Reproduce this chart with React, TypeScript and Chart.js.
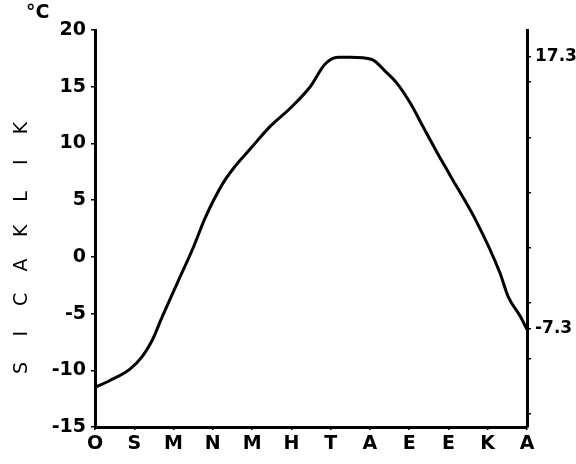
import React, { useEffect, useRef } from 'react';
import { Chart, registerables } from 'chart.js';

Chart.register(...registerables);

// Month initials (Turkish: Ocak ... Aralık)
const MONTH_LABELS = ['O', 'S', 'M', 'N', 'M', 'H', 'T', 'A', 'E', 'E', 'K', 'A'];

// Positions along the month axis (0 = O ... 11 = A) and temperatures (°C)
const MONTH_POS = [
  0, 0.38, 0.89, 1.22, 1.45, 1.71, 2.11, 2.5, 2.8, 3.26, 3.57, 3.95, 4.46, 4.97, 5.48, 5.86,
  6.19, 6.5, 7.05, 7.38, 7.69, 8.02, 8.35, 8.71, 9.04, 9.73, 10.31, 10.52, 10.82, 11,
];
const TEMPS = [
  -11.5, -10.9, -9.9, -8.7, -7.4, -5.3, -2.2, 0.8, 3.4, 6.5, 8.0, 9.5, 11.5, 13.1, 15.0, 17.0,
  17.6, 17.6, 17.4, 16.4, 15.3, 13.6, 11.5, 9.2, 7.2, 3.0, -1.4, -3.5, -5.2, -6.4,
];

// Left axis ticks
const Y_MIN = -15;
const Y_MAX = 20;
const Y_STEP = 5;

// Right axis (drawn slightly offset in the original) ticks and highlighted values
const RIGHT_MIN = -16.2;
const RIGHT_MAX = 19.7;
const RIGHT_TICKS = [-15, -10, -7.3, -5, 0, 5, 10, 15, 17.3];
const RIGHT_LABELS = [17.3, -7.3];

const Y_TITLE = 'SICAKLIK';
const UNIT = '°C';

const FONT_FAMILY = '"DejaVu Sans", "Liberation Sans", sans-serif';

export default function App() {
  const ref = useRef<HTMLCanvasElement | null>(null);

  useEffect(() => {
    if (!ref.current) return;

    const textPlugin = {
      id: 'extraText',
      afterDraw(chart: any) {
        const ctx = chart.ctx;
        ctx.save();
        ctx.fillStyle = '#000';
        ctx.font = `bold 19px ${FONT_FAMILY}`;
        ctx.textAlign = 'left';
        ctx.textBaseline = 'top';
        ctx.fillText(UNIT, 26, 4);
        ctx.font = `19px ${FONT_FAMILY}`;
        ctx.textAlign = 'center';
        ctx.textBaseline = 'middle';
        const letters = Y_TITLE.split('');
        const startY = 368;
        const step = 34.3;
        letters.forEach((ch, i) => {
          ctx.save();
          ctx.translate(22, startY - i * step);
          ctx.rotate(-Math.PI / 2);
          ctx.fillText(ch, 0, 0);
          ctx.restore();
        });
        ctx.restore();
      },
    };

    const chart = new Chart(ref.current, {
      type: 'line',
      data: {
        datasets: [
          {
            data: MONTH_POS.map((x, i) => ({ x, y: TEMPS[i] })),
            borderColor: '#000',
            borderWidth: 3,
            pointRadius: 0,
            fill: false,
            tension: 0.4,
            cubicInterpolationMode: 'monotone',
            yAxisID: 'y',
          },
        ],
      },
      options: {
        animation: false,
        responsive: false,
        layout: { padding: { top: 30, left: 0, right: 0, bottom: 0 } },
        plugins: {
          legend: { display: false },
          tooltip: { enabled: false },
          title: { display: false },
        },
        scales: {
          x: {
            type: 'linear',
            min: 0,
            max: MONTH_LABELS.length - 1,
            afterBuildTicks: (scale: any) => {
              scale.ticks = MONTH_LABELS.map((_, i) => ({ value: i }));
            },
            afterFit: (scale: any) => {
              scale.height = 37;
            },
            ticks: {
              autoSkip: false,
              maxRotation: 0,
              color: '#000',
              padding: 3,
              font: { family: FONT_FAMILY, size: 19, weight: 'bold' },
              callback: (v: any) => MONTH_LABELS[Math.round(Number(v))] ?? '',
            },
            grid: { display: true, drawOnChartArea: false, tickLength: 3, color: '#000', lineWidth: 1.5 },
            border: { display: true, color: '#000', width: 3 },
          },
          y: {
            type: 'linear',
            position: 'left',
            min: Y_MIN,
            max: Y_MAX,
            ticks: {
              stepSize: Y_STEP,
              color: '#000',
              padding: 5,
              font: { family: FONT_FAMILY, size: 19, weight: 'bold' },
            },
            afterFit: (scale: any) => {
              scale.width = 95;
            },
            grid: { display: true, drawOnChartArea: false, tickLength: 4, color: '#000', lineWidth: 1.5 },
            border: { display: true, color: '#000', width: 3 },
          },
          y2: {
            type: 'linear',
            position: 'right',
            min: RIGHT_MIN,
            max: RIGHT_MAX,
            afterBuildTicks: (scale: any) => {
              scale.ticks = RIGHT_TICKS.map((v) => ({ value: v }));
            },
            afterFit: (scale: any) => {
              scale.width = 49;
            },
            ticks: {
              autoSkip: false,
              color: '#000',
              padding: 4,
              font: { family: FONT_FAMILY, size: 17, weight: 'bold' },
              callback: (v: any) => {
                const n = Number(v);
                return RIGHT_LABELS.some((r) => Math.abs(r - n) < 1e-6) ? n.toFixed(1) : '';
              },
            },
            grid: { display: true, drawOnChartArea: false, tickLength: 4, color: '#000', lineWidth: 1.5 },
            border: { display: true, color: '#000', width: 3 },
          },
        },
      },
      plugins: [textPlugin],
    } as any);

    return () => chart.destroy();
  }, []);

  return (
    <div style={{ position: 'fixed', left: 0, top: 0, width: 576, height: 464, background: '#fff' }}>
      <canvas ref={ref} width={576} height={464} style={{ display: 'block' }} />
    </div>
  );
}
